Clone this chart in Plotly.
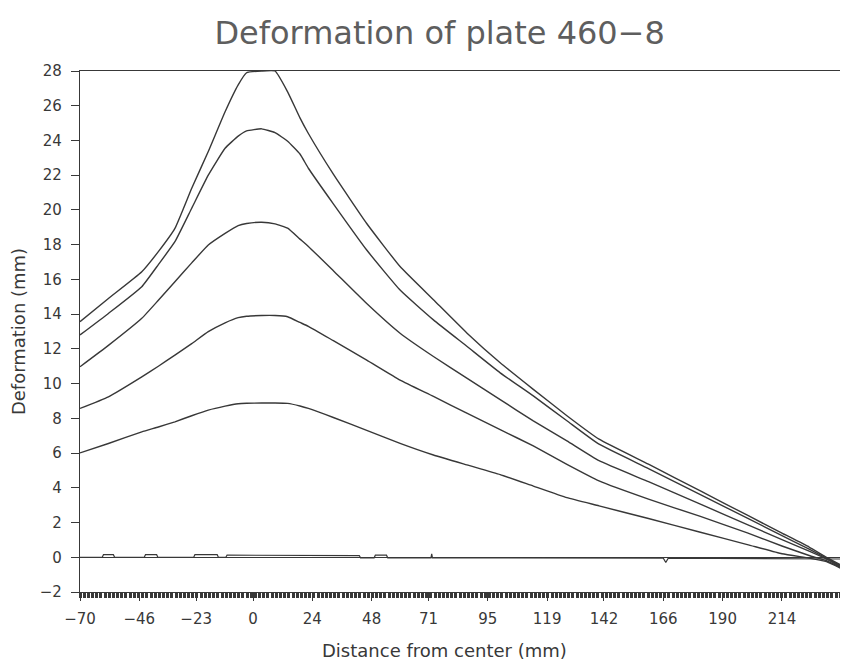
import plotly.graph_objects as go

# ---- data ----
x_mm = [-70, -58.5, -45, -38.3, -31.6, -24.8, -18.1, -11.3, -6, -2.6, 3.5, 8.9, 14, 19, 22.4,
        32.5, 46, 59.5, 73, 86.5, 100, 113.4, 127, 140, 160, 181, 200, 214, 225, 232, 238]

curve_a = [13.56, 14.9, 16.44, 17.6, 18.94, 21.25, 23.36, 25.65, 27.2, 27.9, 28.0, 28.0, 26.8, 25.3, 24.4,
           22.06, 19.22, 16.74, 14.83, 12.92, 11.2, 9.67, 8.15, 6.8, 5.36, 3.82, 2.42, 1.39, 0.59, 0.0, -0.45]
curve_b = [12.8, 14.04, 15.58, 16.85, 18.17, 20.1, 22.0, 23.55, 24.25, 24.55, 24.67, 24.45, 23.95, 23.22, 22.4,
           20.35, 17.69, 15.39, 13.67, 12.15, 10.62, 9.29, 7.86, 6.51, 5.11, 3.61, 2.25, 1.25, 0.47, -0.05, -0.5]
curve_c = [10.97, 12.2, 13.76, 14.8, 15.87, 16.95, 17.98, 18.65, 19.1, 19.22, 19.29, 19.2, 18.95, 18.32, 17.9,
           16.5, 14.61, 12.9, 11.56, 10.32, 9.08, 7.85, 6.7, 5.56, 4.35, 3.06, 1.88, 1.02, 0.35, -0.1, -0.55]
curve_d = [8.57, 9.24, 10.39, 11.0, 11.64, 12.3, 12.99, 13.5, 13.8, 13.88, 13.92, 13.92, 13.85, 13.52, 13.3,
           12.47, 11.35, 10.2, 9.26, 8.3, 7.35, 6.41, 5.35, 4.4, 3.35, 2.35, 1.4, 0.65, 0.1, -0.2, -0.6]
curve_e = [6.01, 6.55, 7.22, 7.5, 7.8, 8.15, 8.47, 8.7, 8.84, 8.87, 8.88, 8.88, 8.86, 8.71, 8.57,
           8.05, 7.31, 6.56, 5.89, 5.32, 4.76, 4.1, 3.43, 2.96, 2.23, 1.44, 0.73, 0.2, -0.05, -0.25, -0.65]

base_x = [-70, -61, -60.5, -56.5, -56, -44, -43.5, -39, -38.5, -24, -23.5, -14.5, -14, -11, -10.5,
          43, 43.5, 49, 49.5, 54, 54.5, 72, 72.3, 72.6, 166, 167, 168, 238]
base_y = [0, 0, 0.15, 0.15, 0, 0, 0.15, 0.15, 0, 0, 0.15, 0.15, 0, 0, 0.12,
          0.1, -0.03, -0.03, 0.12, 0.12, -0.03, -0.03, 0.2, -0.03, -0.05, -0.3, -0.05, -0.1]

x_tick_vals = [-70, -46, -23, 0, 24, 48, 71, 95, 119, 142, 166, 190, 214]
x_tick_text = ["−70", "−46", "−23", "0", "24", "48", "71", "95", "119", "142", "166", "190", "214"]
y_tick_vals = [-2, 0, 2, 4, 6, 8, 10, 12, 14, 16, 18, 20, 22, 24, 26, 28]

title_text = "Deformation of plate 460−8"
x_title = "Distance from center (mm)"
y_title = "Deformation (mm)"

INK = "#383838"
FONT = "DejaVu Sans"

fig = go.Figure()
for ys in [curve_a, curve_b, curve_c, curve_d, curve_e]:
    fig.add_trace(go.Scatter(x=x_mm, y=ys, mode="lines",
                             line=dict(color=INK, width=1.4, shape="spline", smoothing=0.4),
                             showlegend=False, hoverinfo="skip"))
fig.add_trace(go.Scatter(x=base_x, y=base_y, mode="lines",
                         line=dict(color=INK, width=1.2), showlegend=False, hoverinfo="skip"))

# the page body has an 8px margin, so margins are shifted by -8px
fig.update_layout(
    width=848, height=665,
    margin=dict(l=72, r=14, t=63, b=81),
    paper_bgcolor="white", plot_bgcolor="white",
    title=dict(text=title_text, xref="container", x=0.509, xanchor="center",
               yref="container", y=0.962, yanchor="middle",
               font=dict(family=FONT, size=32, color="#5e5e5e")),
    font=dict(family=FONT, color=INK),
    annotations=[dict(text=x_title, xref="paper", yref="paper", x=0.479, y=-0.113,
                      xanchor="center", yanchor="middle", showarrow=False,
                      font=dict(family=FONT, size=18, color=INK))],
)

fig.update_xaxes(
    range=[-70, 238.3], showgrid=False, zeroline=False, automargin=False,
    showline=True, linecolor=INK, linewidth=1.4, mirror=True,
    tickmode="array", tickvals=x_tick_vals, ticktext=x_tick_text,
    ticks="outside", ticklen=8, tickwidth=1.3, tickcolor=INK,
    ticklabelstandoff=5,
    tickfont=dict(family=FONT, size=15, color=INK),
    minor=dict(ticks="outside", ticklen=5, tickwidth=2.8, tickcolor=INK,
               tickmode="linear", tick0=-70, dtick=1.69),
)
fig.update_yaxes(
    range=[-2, 28], showgrid=False, automargin=False,
    zeroline=True, zerolinecolor=INK, zerolinewidth=1.2,
    showline=True, linecolor=INK, linewidth=1.4, mirror=True,
    tickmode="array", tickvals=y_tick_vals,
    ticks="outside", ticklen=8, tickwidth=1.3, tickcolor=INK,
    ticklabelstandoff=6,
    tickfont=dict(family=FONT, size=15, color=INK),
    title=dict(text=y_title, standoff=12, font=dict(family=FONT, size=18, color=INK)),
)

fig.write_html("out.html")
